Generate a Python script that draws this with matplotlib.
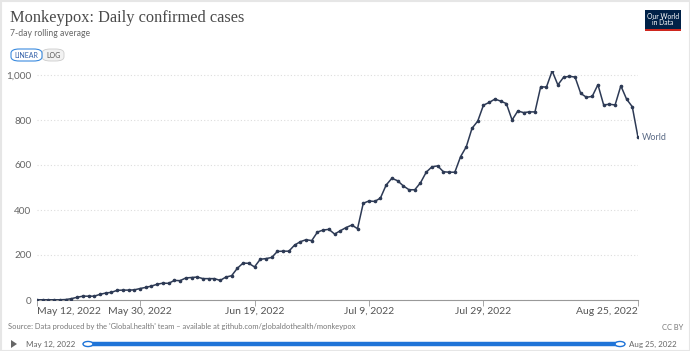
import numpy as np
import matplotlib
matplotlib.use("Agg")
import matplotlib.pyplot as plt
import pandas as pd
from matplotlib.patches import FancyBboxPatch, Rectangle, Circle, Polygon

plt.rcParams['font.family'] = ['Lato', 'DejaVu Sans']

# 7-day rolling average of daily confirmed cases, World
dates = pd.date_range('2022-05-12', '2022-08-25', freq='D')
cases = [1, 1, 1, 1, 1, 2, 6, 12, 17, 17,
         17, 25, 31, 34, 43, 44, 44, 45, 51, 56,
         62, 70, 75, 74, 87, 86, 98, 100, 102, 95,
         95, 95, 87, 102, 108, 141, 164, 163, 147, 181,
         184, 189, 216, 217, 217, 244, 259, 268, 264, 302,
         311, 314, 293, 308, 322, 333, 317, 430, 440, 438,
         453, 511, 541, 530, 507, 490, 490, 521, 568, 592,
         596, 570, 568, 568, 637, 681, 763, 795, 866, 878,
         893, 884, 873, 800, 840, 833, 836, 836, 948, 946,
         1018, 956, 990, 994, 991, 918, 901, 905, 957, 867,
         870, 867, 952, 893, 859, 723]

tick_dates = pd.to_datetime(['2022-05-12', '2022-05-30', '2022-06-19',
                             '2022-07-09', '2022-07-29', '2022-08-25'])
tick_labels = ['May 12, 2022', 'May 30, 2022', 'Jun 19, 2022',
               'Jul 9, 2022', 'Jul 29, 2022', 'Aug 25, 2022']
y_ticks = [0, 200, 400, 600, 800, 1000]

W, H = 690, 351
fig = plt.figure(figsize=(W / 100, H / 100), dpi=100)
fig.patch.set_facecolor('white')

# plot area in pixels: x 37..638, y 0 at 300
ymax = 1020
top_px = 300 - ymax * 0.225
ax = fig.add_axes([37 / W, 1 - 300 / H, (638 - 37) / W, (300 - top_px) / H])
ax.plot(dates, cases, color='#2d3a55', lw=1.1, marker='o', ms=1.6, zorder=3)
ax.set_xlim(dates[0], dates[-1])
ax.set_ylim(0, ymax)

for s in ['top', 'right', 'left']:
    ax.spines[s].set_visible(False)
ax.spines['bottom'].set_color('#999999')
ax.spines['bottom'].set_linewidth(0.8)

ax.set_yticks(y_ticks)
ax.set_yticklabels(['{:,}'.format(v) for v in y_ticks])
ax.tick_params(axis='y', length=0, pad=4, labelsize=7.2, labelcolor='#666666')
ax.set_xticks(tick_dates)
ax.set_xticklabels(tick_labels)
ax.tick_params(axis='x', length=4, width=0.6, color='#999999', pad=1,
               labelsize=7.5, labelcolor='#555555')
xl = ax.get_xticklabels()
xl[0].set_ha('left')
xl[-1].set_ha('right')
ax.grid(axis='y', color='#dddddd', linestyle=(0, (1, 2)), lw=0.8)
ax.set_axisbelow(True)

ax.text(dates[-1] + pd.Timedelta(days=0.6), cases[-1], 'World', fontsize=6.5,
        color='#5a6a85', va='center', ha='left', clip_on=False)

# title / subtitle
fig.text(10 / W, 1 - 18 / H, 'Monkeypox: Daily confirmed cases',
         family=['Liberation Serif', 'DejaVu Serif'], fontsize=11.8,
         color='#4a4a4a', va='center', ha='left')
fig.text(10 / W, 1 - 33 / H, '7-day rolling average', fontsize=6.2,
         color='#666666', va='center', ha='left')

# LINEAR / LOG buttons
fig.patches.append(FancyBboxPatch((42 / W, 1 - 61 / H), 22 / W, 12 / H,
                                  boxstyle='round,pad=0,rounding_size=0.012',
                                  transform=fig.transFigure, fc='#f2f2f2',
                                  ec='#cccccc', lw=0.6))
fig.patches.append(FancyBboxPatch((11 / W, 1 - 61 / H), 31 / W, 12 / H,
                                  boxstyle='round,pad=0,rounding_size=0.012',
                                  transform=fig.transFigure, fc='white',
                                  ec='#3b8bdf', lw=0.8))
fig.text(26.5 / W, 1 - 55 / H, 'LINEAR', fontsize=5, color='#3360a8',
         ha='center', va='center')
fig.text(53 / W, 1 - 55 / H, 'LOG', fontsize=5, color='#555555',
         ha='center', va='center')

# logo
fig.patches.append(Rectangle((645 / W, 1 - 31 / H), 36 / W, 21 / H,
                             transform=fig.transFigure, fc='#002147', ec='none'))
fig.patches.append(Rectangle((645 / W, 1 - 31 / H), 36 / W, 2 / H,
                             transform=fig.transFigure, fc='#ce261e', ec='none'))
fig.text(663 / W, 1 - 19.5 / H, 'Our World\nin Data', fontsize=4.9, color='white',
         ha='center', va='center', linespacing=0.95)

# footer
fig.text(8 / W, 1 - 327 / H,
         "Source: Data produced by the 'Global.health' team \u2013 available at github.com/globaldothealth/monkeypox",
         fontsize=5.4, color='#777777', ha='left', va='center')
fig.text(683 / W, 1 - 327 / H, 'CC BY', fontsize=5.4, color='#777777',
         ha='right', va='center')

# timeline slider
fig.patches.append(Polygon([(11 / W, 1 - 340 / H), (11 / W, 1 - 348 / H), (17 / W, 1 - 344 / H)],
                           closed=True, transform=fig.transFigure, fc='#666666', ec='none'))
fig.text(26 / W, 1 - 344 / H, 'May 12, 2022', fontsize=5.8, color='#666666',
         ha='left', va='center')
fig.text(629 / W, 1 - 344 / H, 'Aug 25, 2022', fontsize=5.8, color='#666666',
         ha='left', va='center')
fig.lines.append(plt.Line2D([88 / W, 620 / W], [1 - 344 / H, 1 - 344 / H],
                            transform=fig.transFigure, color='#1f74d8', lw=3.2,
                            solid_capstyle='butt'))
for cx in [88, 620]:
    fig.patches.append(Circle((cx / W, 1 - 344 / H), 5 / W, transform=fig.transFigure,
                              fc='white', ec='#1f74d8', lw=1.0, zorder=5))

# faint frame
fig.patches.append(Rectangle((0.5 / W, 0), 1 - 1 / W, 1 - 0.5 / H, transform=fig.transFigure,
                             fc='none', ec='#e6e6e6', lw=1.5))

fig.savefig('out.png', dpi=100)
